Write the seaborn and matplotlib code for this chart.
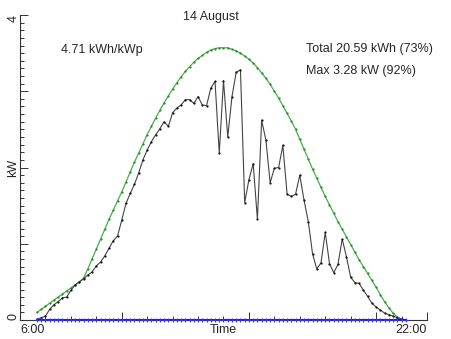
import numpy as np
import pandas as pd
import matplotlib
matplotlib.use("Agg")
import matplotlib.pyplot as plt
import seaborn as sns
from matplotlib.ticker import MultipleLocator, FixedLocator

# ---- data (10-minute samples starting 6:40) ----
start_hour = 6 + 40 / 60
step_hours = 10 / 60

measured_kw = [
    0.01, 0.03, 0.05, 0.14, 0.20, 0.24, 0.29, 0.30, 0.39, 0.46,
    0.50, 0.54, 0.59, 0.63, 0.71, 0.76, 0.84, 0.94, 1.04, 1.10,
    1.31, 1.53, 1.66, 1.78, 1.93, 2.10, 2.23, 2.34, 2.43, 2.51,
    2.60, 2.54, 2.72, 2.78, 2.82, 2.89, 2.89, 2.84, 2.93, 2.82,
    2.81, 3.04, 3.13, 2.19, 3.14, 2.40, 2.93, 3.25, 3.28, 1.54,
    1.84, 2.05, 1.32, 2.62, 2.36, 1.80, 1.99, 2.00, 2.29, 1.65,
    1.62, 1.65, 1.90, 1.57, 1.29, 0.87, 0.67, 0.75, 1.15, 0.74,
    0.62, 0.73, 1.06, 0.83, 0.56, 0.49, 0.48, 0.39, 0.31, 0.22,
    0.17, 0.13, 0.09, 0.07, 0.05, 0.03, 0.01,
]

clear_sky_kw = [
    0.10, 0.14, 0.18, 0.22, 0.26, 0.30, 0.34, 0.38, 0.42, 0.46,
    0.50, 0.55, 0.67, 0.80, 0.93, 1.06, 1.19, 1.32, 1.44, 1.56,
    1.68, 1.81, 1.94, 2.07, 2.19, 2.31, 2.43, 2.54, 2.65, 2.75,
    2.85, 2.94, 3.03, 3.11, 3.19, 3.26, 3.32, 3.38, 3.43, 3.47,
    3.51, 3.54, 3.56, 3.57, 3.57, 3.57, 3.55, 3.53, 3.50, 3.46,
    3.42, 3.37, 3.31, 3.24, 3.17, 3.09, 3.00, 2.91, 2.81, 2.71,
    2.61, 2.50, 2.37, 2.24, 2.11, 1.98, 1.86, 1.74, 1.62, 1.51,
    1.40, 1.29, 1.19, 1.09, 0.99, 0.89, 0.79, 0.70, 0.61, 0.52,
    0.43, 0.33, 0.24, 0.16, 0.09, 0.04, 0.01, 0.00,
]

baseline_kw = [0.0] * len(clear_sky_kw)

title_text = "14 August"
yield_text = "4.71 kWh/kWp"
total_text = "Total 20.59 kWh (73%)"
max_text = "Max 3.28 kW (92%)"
x_tick_labels = ["6:00", "22:00"]
y_tick_labels = ["0", "4"]

# ---- frames ----
t_meas = start_hour + step_hours * np.arange(len(measured_kw))
t_clear = start_hour + step_hours * np.arange(len(clear_sky_kw))
df_meas = pd.DataFrame({"t": t_meas, "kw": measured_kw})
df_clear = pd.DataFrame({"t": t_clear, "kw": clear_sky_kw})
df_base = pd.DataFrame({"t": t_clear, "kw": baseline_kw})

sns.set_style("ticks")
plt.rcParams["font.family"] = ["Liberation Sans", "DejaVu Sans"]

fig = plt.figure(figsize=(4.52, 3.39), dpi=100)
ax = fig.add_axes([20 / 452, 19 / 339, 407 / 452, 305 / 339])

sns.lineplot(data=df_clear, x="t", y="kw", ax=ax, color="#44b044", lw=0.9,
             marker="o", markersize=1.6, markeredgewidth=0,
             markerfacecolor="#2a8a2a", clip_on=False)
sns.lineplot(data=df_meas, x="t", y="kw", ax=ax, color="#444444", lw=0.8,
             marker="o", markersize=1.6, markeredgewidth=0,
             markerfacecolor="#111111", clip_on=False)
sns.lineplot(data=df_base, x="t", y="kw", ax=ax, color="#0000ff", lw=1.3,
             marker="+", markersize=3.5, markeredgewidth=0.8,
             markeredgecolor="#3333ff", clip_on=False, zorder=5)

ax.set_xlim(6, 22)
ax.set_ylim(0, 4)

for side in ["top", "right"]:
    ax.spines[side].set_visible(False)
for side in ["left", "bottom"]:
    ax.spines[side].set_color("#333333")
    ax.spines[side].set_linewidth(0.8)

ax.xaxis.set_major_locator(FixedLocator([6, 10, 15, 20, 22]))
ax.set_xticklabels([x_tick_labels[0], "", "", "", x_tick_labels[1]])
ax.xaxis.set_minor_locator(MultipleLocator(1))
ax.yaxis.set_major_locator(FixedLocator([0, 1, 2, 3, 4]))
ax.set_yticklabels([y_tick_labels[0], "", "", "", y_tick_labels[1]])
ax.yaxis.set_minor_locator(MultipleLocator(0.1))

ax.tick_params(axis="both", which="major", direction="in", length=6,
               width=0.7, color="#333333", labelsize=9)
ax.tick_params(axis="both", which="minor", direction="in", length=3,
               width=0.7, color="#333333")
ax.tick_params(axis="x", which="major", pad=3)
ax.tick_params(axis="y", which="major", pad=0.5)

xl = ax.get_xticklabels()
xl[0].set_ha("left")
xl[-1].set_ha("right")
yl = ax.get_yticklabels()
for lab in yl:
    lab.set_rotation(90)
yl[0].set_va("bottom")
yl[-1].set_va("top")

ax.set_xlabel("Time", fontsize=9)
ax.xaxis.set_label_coords(0.5, -0.012)
ax.set_ylabel("kW", fontsize=9)
ax.yaxis.set_label_coords(-0.001, 0.5)

fig.text(211 / 452, 1 - 17 / 339, title_text, ha="center", va="center", fontsize=9)
fig.text(61 / 452, 1 - 50 / 339, yield_text, ha="left", va="center", fontsize=9)
fig.text(306 / 452, 1 - 49 / 339, total_text, ha="left", va="center", fontsize=9)
fig.text(306 / 452, 1 - 71 / 339, max_text, ha="left", va="center", fontsize=9)

fig.savefig("out.png", dpi=100)
